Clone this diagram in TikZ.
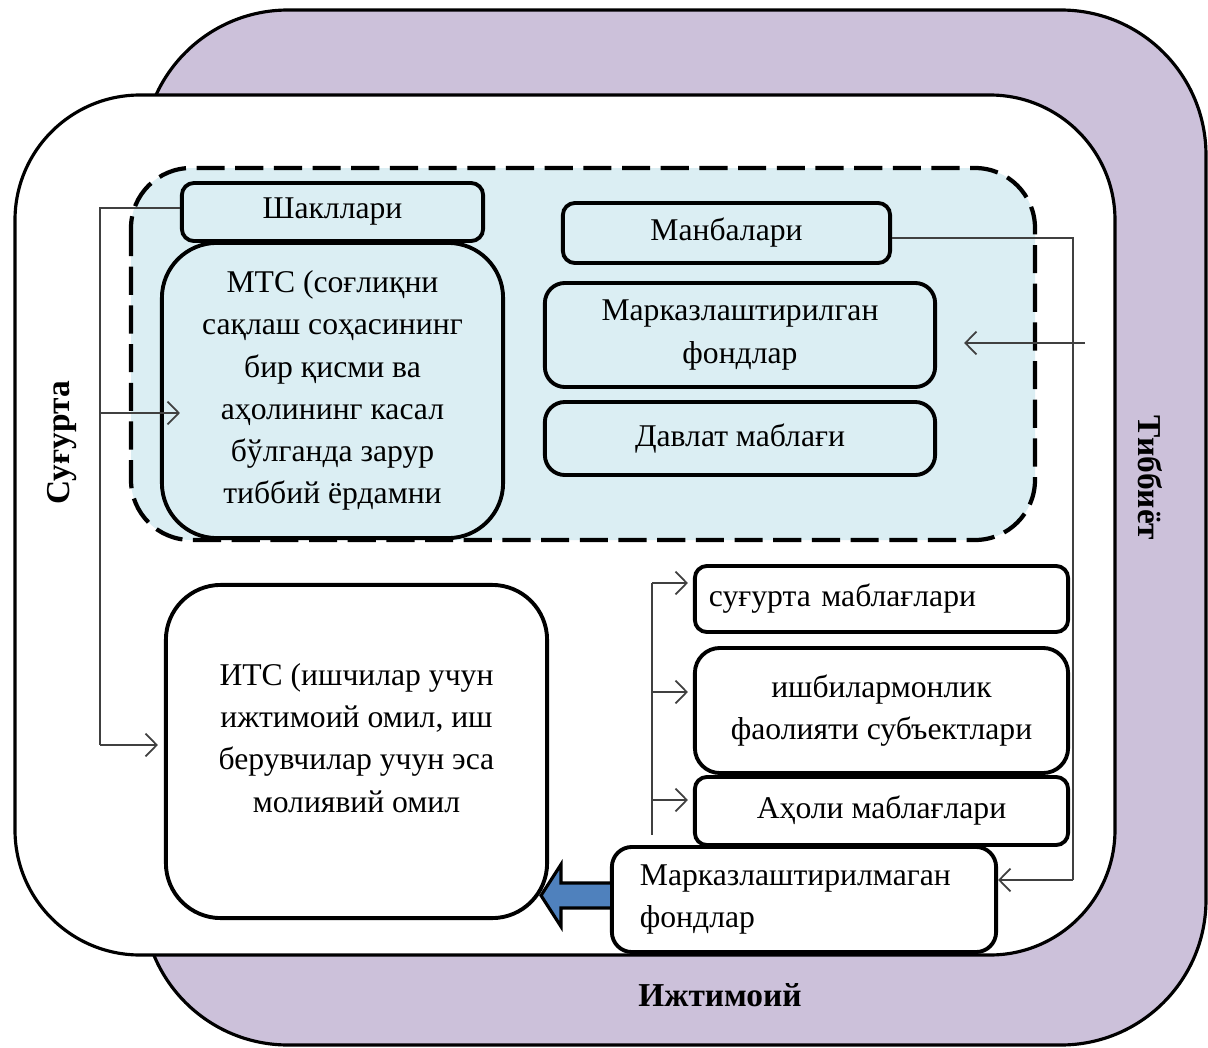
\documentclass[tikz,border=0pt]{standalone}
\usepackage{fontspec}
\setmainfont{Liberation Serif}
\usetikzlibrary{calc,arrows.meta}
\definecolor{lilac}{HTML}{CCC1DA}
\definecolor{paleblue}{HTML}{DBEEF3}
\definecolor{arrowblue}{HTML}{4F81BD}

\begin{document}
\begin{tikzpicture}[x=0.01cm, y=-0.01cm,
    font=\fontsize{9}{12}\selectfont,
    >={Straight Barb[length=3.2pt,width=6.5pt]},
    box/.style={draw, line width=1.1pt, rounded corners=0.12cm, align=center, inner sep=0pt},
    link/.style={draw=black!75, line width=0.5pt},
    side/.style={font=\fontsize{9.5}{12}\selectfont\bfseries}]
    \useasboundingbox (0,0) rectangle (1208,1048);
    \draw[fill=lilac, line width=0.9pt, rounded corners=1.45cm] (143,10) rectangle (1206,1045);
    \draw[fill=white, line width=0.9pt, rounded corners=1.25cm] (15,95) rectangle (1115,955);
    \draw[fill=paleblue, line width=1.2pt, dash pattern=on 8pt off 3pt, rounded corners=0.6cm] (131,168) rectangle (1035,540);
    \node[box, fill=paleblue, minimum width=3.01cm, minimum height=0.58cm] (shk) at (332.5,212) {Шакллари};
    \node[box, fill=paleblue, rounded corners=0.55cm, minimum width=3.41cm, minimum height=2.95cm] (mts) at (332.5,390.5)
        {МТС (соғлиқни\\сақлаш соҳасининг\\бир қисми ва\\аҳолининг касал\\бўлганда зарур\\тиббий ёрдамни};
    \node[box, fill=paleblue, minimum width=3.27cm, minimum height=0.6cm] (mnb) at (726.5,233) {Манбалари};
    \node[box, fill=paleblue, rounded corners=0.2cm, minimum width=3.9cm, minimum height=1.04cm] (mkf) at (740,335) {Марказлаштирилган\\фондлар};
    \node[box, fill=paleblue, rounded corners=0.2cm, minimum width=3.9cm, minimum height=0.73cm] (dvl) at (740,438.5) {Давлат маблағи};
    \node[box, fill=white, rounded corners=0.55cm, minimum width=3.81cm, minimum height=3.33cm] (its) at (356.5,751.5)
        {ИТС (ишчилар учун\\ижтимоий омил, иш\\берувчилар учун эса\\молиявий омил\\[-0.15cm]};
    \node[box, fill=white, align=left, text width=3.45cm, inner xsep=0.14cm, minimum height=0.66cm] (sug) at (881.5,599) {суғурта маблағлари};
    \node[box, fill=white, rounded corners=0.25cm, minimum width=3.73cm, minimum height=1.25cm] (ish) at (881.5,710.5) {ишбилармонлик\\фаолияти субъектлари};
    \node[box, fill=white, minimum width=3.73cm, minimum height=0.68cm] (aho) at (881.5,811) {Аҳоли маблағлари};
    \node[box, fill=white, rounded corners=0.2cm, align=left, text width=3.28cm, inner xsep=0.28cm, minimum height=1.05cm] (mzf) at (804,899.5)
        {Марказлаштирилмаган\\фондлар};
    \coordinate (ltop) at (100,208);
    \coordinate (lmid) at (100,413);
    \coordinate (lbot) at (100,745);
    \draw[link] (shk.west |- ltop) -- (ltop) -- (lbot);
    \draw[link, ->] (lmid) -- ([xshift=0.2cm]mts.west |- lmid);
    \draw[link, ->] (lbot) -- ([xshift=-0.06cm]its.west |- lbot);
    \coordinate (rtop) at (1073,238);
    \coordinate (rmid) at (1085,343);
    \coordinate (rbot) at (1073,880);
    \draw[link] (mnb.east |- rtop) -- (rtop) -- (rbot);
    \draw[link, ->] (rbot) -- (mzf.east |- rbot);
    \draw[link, ->] (rmid) -- ([xshift=0.27cm]mkf.east |- rmid);
    \coordinate (btop) at (652,583);
    \coordinate (bmid) at (652,692);
    \coordinate (blow) at (652,800);
    \coordinate (bend) at (652,835);
    \draw[link] (btop) -- (bend);
    \draw[link, ->] (btop) -- ([xshift=-0.05cm]sug.west |- btop);
    \draw[link, ->] (bmid) -- ([xshift=-0.05cm]ish.west |- bmid);
    \draw[link, ->] (blow) -- ([xshift=-0.05cm]aho.west |- blow);
    \coordinate (tip) at ($(its.east |- mzf.west)+(-8,-4)$);
    \draw[fill=arrowblue, line width=0.9pt] ($(mzf.west)+(0,-16.5)$) -- ($(mzf.west)+(-49,-16.5)$) -- ($(mzf.west)+(-49,-35)$)
        -- (tip) -- ($(mzf.west)+(-49,27)$) -- ($(mzf.west)+(-49,8.5)$) -- ($(mzf.west)+(0,8.5)$);
    \node[side, rotate=90] (sgl) at (62,443) {Суғурта};
    \node[side] (ijt) at (720,995) {Ижтимоий};
    \node[side, rotate=-90] (tbb) at (1150,478) {Тиббиёт};
\end{tikzpicture}
\end{document}
